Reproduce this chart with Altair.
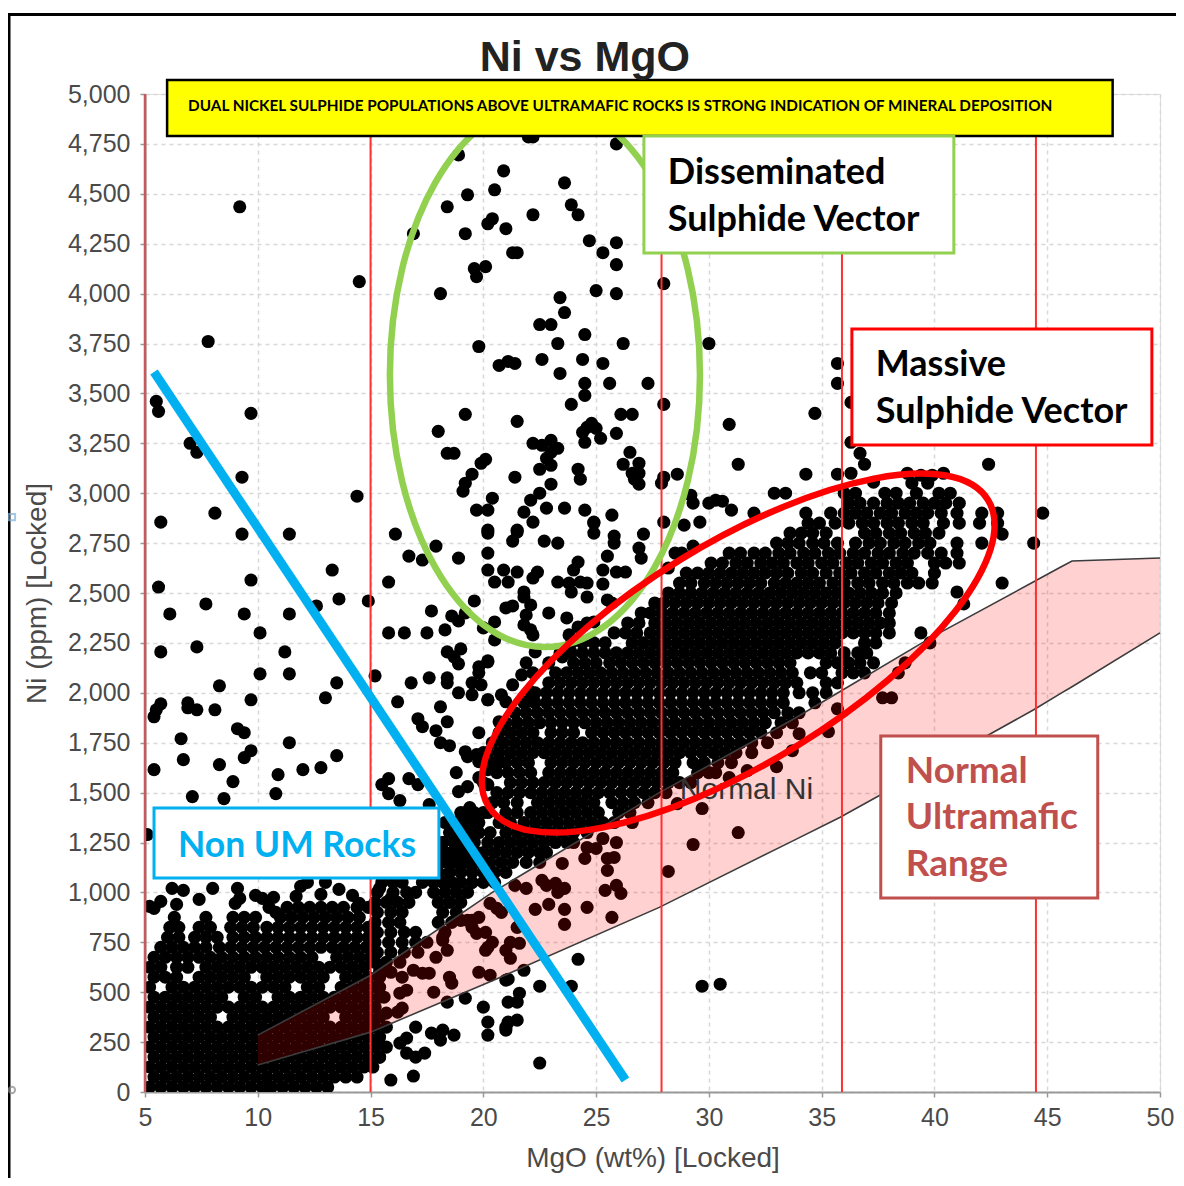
import altair as alt
import pandas as pd

# Scattered samples
scatter_mgo = [
9.2,14.5,7.8,5.5,5.6,9.7,7.0,7.3,9.3,14.4,8.1,5.7,9.3,11.4,16.1,17.9,16.7,17.3,18.9,13.3,9.7,15.8,5.6,13.6,14.9,7.7,6.1,9.4,11.4,12.6,
17.7,19.6,18.6,18.9,19.2,10.1,15.8,16.5,17.5,18.3,20.0,5.7,7.3,11.2,18.4,19.0,18.7,18.9,19.8,20.2,10.1,11.4,15.2,17.6,16.8,18.4,18.4,19.8,19.5,19.9,
18.9,19.5,8.3,13.5,13.0,9.7,16.2,20.2,5.7,5.5,5.4,6.9,6.9,7.3,8.1,18.1,17.1,17.3,18.4,17.9,9.1,9.4,6.6,19.8,11.4,18.1,18.5,9.7,9.4,6.7,
13.5,8.3,5.4,12.0,12.8,10.9,8.9,7.1,8.5,10.8,15.8,15.5,15.8,16.3,16.7,17.1,18.8,18.9,19.3,19.2,19.3,19.7,20.0,19.8,19.8,19.4,17.6,5.1,
22.0,22.2,25.9,18.9,20.9,23.6,20.5,19.3,18.4,23.9,24.2,22.2,20.4,20.2,21.0,19.2,16.9,24.7,25.9,25.3,21.3,21.5,25.9,20.1,19.6,19.7,28.0,18.1,25.0,25.9,
23.4,23.6,22.5,23.0,24.5,23.3,26.2,30.0,19.8,22.6,24.4,25.3,20.7,21.1,21.4,23.4,24.5,24.5,25.6,27.3,23.9,28.0,26.1,26.6,19.2,21.5,30.9,18.0,25.9,24.6,
25.0,24.4,25.2,24.5,24.8,22.2,23.0,23.3,22.6,23.0,18.4,18.7,26.5,20.1,19.9,22.8,26.2,26.9,31.3,19.5,22.5,23.0,24.2,24.3,21.4,26.6,26.9,26.7,26.9,28.0,
27.9,28.6,19.2,19.1,23.0,22.5,22.1,20.4,22.8,23.6,19.7,20.2,21.8,24.5,25.7,22.2,24.9,28.0,28.9,29.6,29.3,29.2,30.0,30.3,30.6,31.0,32.0,20.2,21.5,
24.9,24.9,21.5,21.3,20.2,25.8,25.8,27.1,22.7,23.3,20.2,26.9,27.0,25.5,24.2,24.0,28.5,28.8,29.3,20.2,20.9,21.5,22.4,22.2,20.5,21.1,23.3,25.3,25.9,26.3,
28.2,25.3,23.8,24.3,24.6,23.9,24.6,25.5,25.7,21.8,21.8,22.1,21.0,21.3,21.9,21.8,22.1,22.9,23.7,20.5,20.5,22.2,24.2,24.6,24.9,23.8,22.3,20.2,21.9,22.9,
23.8,23.5,22.2,21.7,21.3,20.8,21.0,20.2,21.9,22.1,20.7,20.2,20.7,20.2,20.2,19.3,
35.7,35.7,36.3,34.7,36.3,36.7,36.9,34.3,35.7,36.3,37.3,42.4,38.8,39.4,39.9,40.4,39.0,39.7,32.9,33.4,42.1,42.8,42.0,42.8,43.0,44.8,44.4,43.0,42.1,41.0,
41.3,39.8,39.4,38.7,38.4,37.7,38.1,35.7,
23.5,22.5,24.6,25.0,24.5,25.3,25.9,25.8,25.5,25.5,22.6,23.2,23.6,23.3,22.8,21.9,21.4,25.4,25.9,26.1,22.9,22.3,23.6,24.6,25.7,23.6,28.2,29.3,31.3,29.7,
28.6,31.7,33.0,33.7,30.9,30.3,29.7,34.0,35.3,26.6,20.6,20.3,20.8,19.5,19.8,19.3,19.5,19.7,20.1,20.2,20.4,20.1,21.2,21.6,21.0,21.2,18.2,18.4,21.5,19.8,
20.3,18.5,18.6,24.2,23.9,22.5,21.8,21.1,19.2,18.4,21.6,21.1,21.5,20.0,20.2,21.5,21.1,21.0,20.2,18.2,18.7,18.1,29.7,30.5,22.5,
19.0,18.2,17.9,16.9,16.4,17.3,17.6,17.8,16.3,16.6,16.2,15.7,16.4,15.4,15.6,15.1,21.0,21.0,17.0,16.6,16.3,16.6,17.0,17.4,17.7,15.3,15.4,15.9,16.9,
6.2,6.7,8.0,9.1,7.4,6.4,5.4,5.7,5.2,9.0,9.2,9.9,10.2,10.7,10.5,10.8,11.9,12.2,11.7,13.0,13.6,12.8,14.2,14.5,15.4,15.9,
19.0,19.4,18.6,19.0,18.4,18.8,19.3,19.9,18.2,18.8,19.3,17.6,18.3,18.8,19.3,19.8,19.4,19.0,18.7,
]
scatter_ni = [
4435,4060,3760,3460,3410,3400,3250,3205,3080,2985,2900,2855,2795,2795,2795,2735,2685,2665,2675,2615,2565,2555,2530,2470,2460,2445,2395,2395,2395,2435,
2410,2460,2385,2360,2400,2300,2300,2300,2300,2315,2325,2205,2230,2205,2205,2220,2180,2145,2130,2155,2095,2095,2085,2075,2050,2075,2050,2100,2050,2040,
2000,1990,2035,2050,1975,1965,1955,1965,1945,1915,1880,1950,1925,1915,1915,1930,1870,1830,1855,1810,1820,1800,1770,1800,1750,1750,1735,1710,1675,1665,
1685,1640,1615,1615,1625,1590,1555,1480,1470,1495,1570,1540,1495,1460,1570,1540,1600,1505,1530,1705,1680,1690,1700,1655,1575,1425,1440,1290,
4785,4785,4750,4695,4615,4555,4520,4495,4435,4445,4395,4395,4375,4350,4325,4300,4300,4265,4255,4205,4205,4205,4145,4135,4125,4085,4050,4000,4015,4000,
3980,3905,3845,3845,3795,3750,3750,3750,3735,3670,3670,3650,3640,3660,3650,3600,3550,3490,3550,3550,3445,3445,3395,3395,3395,3360,3345,3310,3300,3330,
3325,3305,3275,3255,3350,3250,3265,3225,3240,3205,3200,3200,3205,3170,3150,3175,3145,3150,3145,3095,3120,3140,3120,3070,3080,3100,3100,3070,3045,3080,
3050,3095,3050,3010,3045,3000,2965,2975,2925,2925,2915,2915,2905,2915,2890,2855,2855,2855,2840,2855,2950,2990,2950,2965,2960,2915,2900,2815,2815,
2850,2800,2805,2760,2800,2785,2750,2795,2760,2750,2700,2725,2675,2685,2655,2615,2700,2700,2735,2615,2615,2605,2605,2575,2555,2555,2555,2615,2605,2605,
2625,2545,2550,2555,2550,2505,2480,2465,2450,2505,2480,2440,2425,2435,2390,2340,2315,2400,2375,2355,2265,2290,2330,2350,2355,2290,2205,2160,2150,2150,
2215,2180,2100,2090,2040,1990,1955,1965,1955,2005,1855,1665,1650,1615,1540,1400,
3650,3550,3455,3400,3255,3200,3145,3095,3095,3100,3055,3145,3100,3090,3090,3100,3050,3050,3000,3000,2900,2900,2850,2850,2795,2900,2750,2550,2750,2505,
2445,2250,2300,2150,2100,1975,1975,1920,
1145,1150,1225,1220,1170,1270,1250,1175,1170,1110,1060,1045,1020,1000,1035,1020,1035,1010,1035,995,940,915,915,925,875,840,1105,1240,1300,1420,
1445,1610,1630,1710,1575,1600,1615,1795,1805,1350,920,945,900,860,875,860,825,795,800,725,750,710,750,745,710,670,760,710,825,600,
585,575,545,665,530,530,610,565,470,450,495,450,450,425,350,360,350,310,285,310,285,260,530,540,145,
860,775,675,610,575,595,595,500,495,510,400,395,420,525,475,360,560,325,325,270,245,195,175,195,295,245,175,60,80,
1020,1010,1020,1020,965,940,920,955,930,945,970,985,970,975,925,900,1030,1050,980,1050,1015,990,985,945,1020,970,
1250,1300,1200,1200,1150,1150,1150,1150,1250,1250,1250,1100,1350,1350,1350,1350,1400,1400,1300,
]

# Densely overplotted zone of the sulphide trend: MgO read along each Ni level
band_3000 = [36.0,36.5,37.8,38.3,39.2,40.2,40.7]
band_2950 = [36.2,36.7,37.3,37.9,38.4,38.9,39.5,40.0,40.5,41.1]
band_2900 = [34.3,35.4,36.0,36.5,37.0,37.6,38.1,38.7,39.2,39.7,40.3,41.0]
band_2850 = [34.4,34.9,35.6,36.2,36.8,37.3,37.9,38.4,39.0,39.5,40.4,41.1]
band_2800 = [33.6,34.1,34.6,35.2,36.9,37.4,38.0,38.5,39.1,39.6,40.2]
band_2750 = [33.0,33.5,34.0,34.6,35.1,35.7,36.5,37.1,37.6,38.2,38.7,39.3,39.8,41.0]
band_2700 = [30.9,31.4,32.0,32.5,33.1,33.6,34.2,34.7,35.3,35.8,36.4,36.9,37.5,38.0,38.6,39.1,39.7,40.3,41.0]
band_2650 = [30.1,30.6,31.2,31.7,32.3,32.8,33.3,33.9,34.4,35.0,35.5,36.1,36.6,37.2,37.7,38.3,38.8,40.0,40.5,41.1]
band_2600 = [29.0,29.5,30.0,30.5,31.0,31.5,32.0,32.5,33.0,33.5,34.1,34.6,35.2,35.8,36.3,36.9,37.4,38.0,38.5,39.0,40.0]
band_2550 = [28.7,29.2,29.8,30.3,30.8,31.3,31.8,32.3,32.9,33.4,33.9,34.4,34.9,35.5,36.0,36.6,37.1,37.7,38.2,38.8,39.3,39.9]
band_2500 = [28.2,28.7,29.2,29.7,30.2,30.7,31.2,31.7,32.2,32.7,33.2,33.7,34.2,34.7,35.2,35.7,36.2,36.7,37.2,37.7,38.3]
band_2450 = [27.6,28.0,28.5,29.0,29.5,30.0,30.5,31.0,31.5,32.0,32.5,33.0,33.5,34.0,34.5,35.0,35.5,36.0,36.5,37.0,37.5,38.1]
band_2400 = [27.0,27.4,27.9,28.4,28.9,29.4,29.9,30.4,30.9,31.4,31.9,32.4,32.9,33.4,33.9,34.4,34.9,35.4,35.9,36.4,36.9,37.4,38.0]
band_2350 = [26.4,26.9,27.6,28.1,28.6,29.1,29.6,30.1,30.6,31.1,31.6,32.1,32.6,33.1,33.6,34.1,34.6,35.1,35.6,36.1,36.6,37.1,37.6,38.0]
band_2300 = [25.8,26.3,26.8,27.4,27.9,28.4,28.9,29.4,29.9,30.4,30.9,31.4,31.9,32.4,32.9,33.4,33.9,34.4,34.9,35.4,35.9,36.4,36.9,37.4,38.0]
band_2250 = [23.9,24.4,24.9,25.4,26.6,27.1,27.6,28.1,28.6,29.1,29.6,30.1,30.6,31.1,31.6,32.1,32.6,33.1,33.6,34.1,34.6,35.1,35.6,36.9,37.4]
band_2200 = [23.4,23.9,24.4,24.9,25.4,25.9,26.4,26.9,27.4,27.9,28.4,28.9,29.4,29.9,30.4,30.9,31.4,31.9,32.4,32.9,33.4,33.9,34.4,34.9,35.4,36.0,36.6,37.0]
band_2150 = [24.0,24.5,25.0,25.6,26.1,26.6,27.1,27.6,28.1,28.6,29.1,29.6,30.1,30.6,31.1,31.6,32.1,32.6,33.1,33.6,35.2,35.7,36.2,36.7,37.3]
band_2100 = [23.2,23.7,24.2,24.7,25.2,25.7,26.2,26.7,27.2,27.7,28.2,28.7,29.2,29.7,30.2,30.7,31.2,31.7,32.2,32.7,33.2,33.7,34.5,35.0,35.9,36.4,36.9]
band_2050 = [22.9,23.4,23.9,24.4,24.9,25.4,25.9,26.4,26.9,27.4,27.9,28.4,28.9,29.4,29.9,30.4,30.9,31.4,31.9,32.4,32.9,33.4,33.9,35.2,35.7]
band_2000 = [22.3,22.8,23.3,23.8,24.3,24.8,25.3,25.8,26.3,26.8,27.3,27.8,28.3,28.8,29.3,29.8,30.3,30.8,31.3,31.8,32.3,32.8,33.3,34.0,34.6,35.2]
band_1950 = [21.8,22.3,22.8,23.3,23.8,24.3,24.8,25.3,25.8,26.3,26.8,27.3,27.8,28.3,28.8,29.3,29.8,30.3,30.8,31.3,31.8,32.3,32.8,33.3,34.7]
band_1900 = [21.4,21.9,22.4,22.9,23.4,23.9,24.4,24.9,25.4,25.9,26.4,26.9,27.4,27.9,28.4,28.9,29.4,29.9,30.4,30.9,31.4,31.9,32.4,32.9,33.5,34.0]
band_1850 = [21.0,21.5,22.0,22.5,23.0,23.5,24.0,24.5,25.0,25.5,26.0,26.5,27.0,27.5,28.0,28.5,29.0,29.5,30.0,30.5,31.0,31.5,32.0,32.5,33.2,33.7]
band_1800 = [20.7,21.2,21.7,22.2,23.0,23.5,24.0,24.8,25.3,25.8,26.3,26.8,27.3,27.8,28.3,28.8,29.3,29.8,30.3,30.8,31.3,31.8,32.3,33.0]
band_1750 = [20.4,20.9,21.4,21.9,22.4,22.9,23.4,23.9,24.4,24.9,25.4,25.9,26.4,26.9,27.4,27.9,28.4,28.9,29.4,29.9,30.4,30.9,31.4,31.9,32.6]
band_1700 = [20.2,20.7,21.2,21.7,22.2,22.7,23.2,23.7,24.2,24.7,25.2,25.7,26.2,26.7,27.2,27.7,28.2,28.7,29.2,29.7,30.2,30.7,31.2,31.9]
band_1650 = [20.0,20.5,21.0,21.5,22.0,23.0,23.5,24.0,24.5,25.0,25.5,26.0,26.5,27.0,27.5,28.0,28.5,29.3,29.8,30.4,31.0]
band_1600 = [20.6,21.1,21.6,22.1,22.9,23.4,23.9,24.4,24.9,25.4,25.9,26.4,26.9,27.4,27.9,28.4,29.5,30.0]
band_1550 = [20.0,21.2,21.7,22.2,22.7,23.2,23.7,24.2,24.7,25.2,25.7,26.2,26.7,27.2,27.7,28.2,28.7,29.2]
band_1500 = [20.6,21.1,21.6,22.1,22.6,23.1,23.6,24.1,24.6,25.1,25.6,26.1,26.6,27.1,27.6,28.1]
band_1450 = [20.4,20.9,21.5,22.4,22.9,23.4,23.9,24.4,24.9,25.7,26.2,26.7,27.3]
band_1400 = [20.2,21.0,21.5,22.1,22.6,23.1,23.6,24.1,24.6,25.1,26.0,26.5]
band_1350 = [20.7,21.2,21.8,22.3,22.8,23.3,23.8,24.3,24.8,25.3,25.8]
band_1300 = [19.8,20.3,21.0,21.5,22.0,22.5,23.0,23.5,24.0,24.6]
band_1250 = [20.2,20.7,21.2,21.7,22.2,22.7,23.2,23.7,24.0]
band_1200 = [20.0,20.5,21.0,21.5,22.0,22.5,22.8]
band_1150 = [19.8,20.3,20.8,21.3,21.9]
band_1100 = [19.5,20.0,20.5,21.0]
band_1050 = [19.5,20.0,20.5]

# Densely overplotted zone of the non-ultramafic rocks
rock_25 = [5.2,5.7,6.2,6.7,7.2,7.7,8.2,8.7,9.2,9.7,10.2,10.6,11.1,11.6,12.1,12.6,13.1]
rock_75 = [5.4,5.9,6.4,6.9,7.4,7.9,8.4,8.9,9.4,9.9,10.4,10.9,11.4,11.9,12.4,12.9,13.4,13.9,14.4]
rock_125 = [5.2,5.7,6.2,6.7,7.2,7.7,8.2,8.7,9.2,9.7,10.2,10.7,11.2,11.7,12.2,12.7,13.2,13.7,14.2,14.7,15.1]
rock_175 = [5.4,5.9,6.4,6.9,7.4,7.9,8.4,8.9,9.4,9.9,10.4,10.9,11.4,11.9,12.4,12.9,13.4,13.9,14.4,14.9,15.4]
rock_225 = [5.2,5.7,6.2,6.7,7.2,7.7,8.2,8.7,9.2,9.7,10.2,10.7,11.2,11.7,12.2,12.7,13.2,13.7,14.2,14.7,15.2,15.7]
rock_275 = [5.4,5.9,6.4,6.9,7.4,7.9,8.4,8.9,9.4,9.9,10.4,10.9,11.4,11.9,12.4,12.9,13.4,13.9,14.4,14.9,15.4]
rock_325 = [5.2,5.7,6.2,6.7,7.2,7.7,8.2,8.7,9.2,9.7,10.2,10.7,11.2,11.7,12.2,12.7,13.2,13.7,14.2,14.7,15.2,15.7]
rock_375 = [5.4,5.9,6.4,6.9,7.4,7.9,8.9,9.4,9.9,10.4,10.9,11.4,11.9,12.4,12.9,13.9,14.4,14.9,15.4]
rock_425 = [5.2,5.7,6.2,6.7,7.2,7.7,8.2,8.7,9.2,9.7,10.2,10.7,11.2,11.7,12.2,12.7,13.2,13.7,14.2,14.7,15.2]
rock_475 = [5.4,5.9,6.4,6.9,7.4,7.9,8.4,9.4,9.9,10.9,11.4,11.9,12.4,12.9,13.4,13.9,14.4,14.9,15.4]
rock_525 = [5.2,6.2,6.7,7.2,7.7,8.2,8.7,9.2,9.7,10.2,10.7,11.2,12.2,12.7,13.7,14.2,14.7,15.2]
rock_575 = [5.4,5.9,6.4,7.4,7.9,8.4,8.9,9.4,10.4,10.9,11.4,11.9,12.4,12.9,13.9,14.4,14.9,15.4]
rock_625 = [5.2,5.7,6.4,6.9,7.7,8.2,8.7,9.2,9.7,10.2,10.7,11.2,11.7,12.2,12.7,13.2,13.7,14.2,14.7,15.4]
rock_675 = [5.4,5.9,6.4,6.9,7.4,7.9,8.4,8.9,9.4,9.9,10.4,10.9,11.4,11.9,12.4,13.5,14.0,14.5,15.0]
rock_725 = [5.7,6.2,6.7,7.2,7.7,8.3,8.8,9.3,9.8,10.3,10.8,11.3,11.8,12.3,12.8,13.3,13.8,14.3,14.8]
rock_775 = [6.0,6.5,7.2,7.7,8.2,8.9,9.4,9.9,10.4,10.9,11.4,11.9,12.4,12.9,13.4,13.9,14.4,14.9]
rock_825 = [6.1,6.5,7.4,7.9,8.8,9.3,9.8,10.4,10.9,11.4,11.9,12.4,12.9,13.4,13.9,14.4,14.9]
rock_875 = [6.3,7.7,8.9,9.4,9.9,11.0,11.5,12.0,12.5,13.0,13.5,14.0,14.5]
rock_925 = [11.3,11.8,12.3,12.8,13.3,13.8,14.4,14.9]
rock_r1400 = [19.2,19.6,20.0]
rock_r1350 = [18.8,19.3,19.7]
rock_r1300 = [18.5,19.0,19.5]
rock_r1250 = [18.2,18.7,19.1,19.6]
rock_r1200 = [18.3,18.8,19.3,19.7]
rock_r1150 = [18.1,18.6,19.1,19.5]
rock_r1100 = [15.6,16.6,17.4,18.0,18.5,19.0]
rock_r1050 = [15.5,16.0,16.4,17.3,17.8,18.2,18.6,19.0,19.5]
rock_r1000 = [15.3,16.0,16.6,17.0,17.8,18.3,18.8,19.3]
rock_r950 = [15.2,15.7,16.2,16.7,18.0,18.5,19.0]
rock_r900 = [15.3,15.9,16.4,18.2,18.8]
rock_r850 = [15.2,15.8,16.3,18.0,18.6]
rock_r800 = [15.3,15.9,16.5,17.0,18.3]
rock_r750 = [15.2,15.8,16.4,17.0,17.5]
rock_r700 = [15.3,15.9,16.5,17.1]
rock_r650 = [15.2,15.7,16.3]
rock_r600 = [15.4,15.9]

dense_rows = [
    (3000,band_3000),(2950,band_2950),(2900,band_2900),(2850,band_2850),(2800,band_2800),(2750,band_2750),
    (2700,band_2700),(2650,band_2650),(2600,band_2600),(2550,band_2550),(2500,band_2500),(2450,band_2450),
    (2400,band_2400),(2350,band_2350),(2300,band_2300),(2250,band_2250),(2200,band_2200),(2150,band_2150),
    (2100,band_2100),(2050,band_2050),(2000,band_2000),(1950,band_1950),(1900,band_1900),(1850,band_1850),
    (1800,band_1800),(1750,band_1750),(1700,band_1700),(1650,band_1650),(1600,band_1600),(1550,band_1550),
    (1500,band_1500),(1450,band_1450),(1400,band_1400),(1350,band_1350),(1300,band_1300),(1250,band_1250),
    (1200,band_1200),(1150,band_1150),(1100,band_1100),(1050,band_1050),
    (25,rock_25),(75,rock_75),(125,rock_125),(175,rock_175),(225,rock_225),(275,rock_275),(325,rock_325),
    (375,rock_375),(425,rock_425),(475,rock_475),(525,rock_525),(575,rock_575),(625,rock_625),(675,rock_675),
    (725,rock_725),(775,rock_775),(825,rock_825),(875,rock_875),(925,rock_925),
    (1400,rock_r1400),(1350,rock_r1350),(1300,rock_r1300),(1250,rock_r1250),(1200,rock_r1200),(1150,rock_r1150),(1100,rock_r1100),
    (1050,rock_r1050),(1000,rock_r1000),(950,rock_r950),(900,rock_r900),(850,rock_r850),(800,rock_r800),
    (750,rock_r750),(700,rock_r700),(650,rock_r650),(600,rock_r600),
]

# Normal-Ni range
range_mgo = [10,15,20.4,27.8,33.7,35.8,39.9,44.4,45.6,46.1,50]
range_high = [285,585,1000,1500,1865,2005,2280,2556,2630,2660,2675]
range_low = [135,300,557,925,1257,1375,1632,1915,1997,2030,2300]

# Cut-off lines
cutoffs = [15, 27.9, 35.9, 44.5]

x_ticks = [5,10,15,20,25,30,35,40,45,50]
y_ticks = list(range(0,5001,250))

points = pd.DataFrame({"mgo": scatter_mgo, "ni": scatter_ni})
dense = pd.DataFrame([{"mgo": m, "ni": n} for n, row in dense_rows for m in row])
points = pd.concat([points, dense], ignore_index=True)

xs = alt.Scale(domain=[5,50], nice=False, zero=False)
ys = alt.Scale(domain=[0,5000], nice=False, zero=False)

AX = dict(
    grid=True, gridColor="#d8d8d8", gridDash=[4,4], gridWidth=1.5,
    domainColor="#999999", domainWidth=2, tickColor="#999999", tickSize=5, tickWidth=1.5,
    labelFont="Liberation Sans", labelFontSize=25, labelColor="#4a4a4a",
    titleFont="Liberation Sans", titleFontSize=28, titleFontWeight="normal", titleColor="#4a4a4a",
    titleBaseline="middle",
)
X_AXIS = alt.Axis(title="MgO (wt%) [Locked]", values=x_ticks, titleY=66, format="d", labelFlush=False, labelPadding=8, **AX)
Y_AXIS = alt.Axis(title="Ni (ppm) [Locked]", values=y_ticks, titleX=-108, format=",d", labelPadding=10, **AX)

def X(f): return alt.X(f, type="quantitative", scale=xs, axis=X_AXIS)
def Y(f): return alt.Y(f, type="quantitative", scale=ys, axis=Y_AXIS)

base = alt.Chart(points).mark_circle(size=172, color="black", opacity=1, clip=True).encode(x=X("mgo"), y=Y("ni"))

band_df = pd.DataFrame({"mgo": range_mgo, "hi": range_high, "lo": range_low})
band = alt.Chart(band_df).mark_area(color="#ff0000", opacity=0.18).encode(x=X("mgo"), y=Y("hi"), y2=alt.Y2("lo"))
band_hi = alt.Chart(band_df).mark_line(color="#3c3c3c", strokeWidth=1.6).encode(x=X("mgo"), y=Y("hi"))
band_lo = alt.Chart(band_df).mark_line(color="#3c3c3c", strokeWidth=1.6).encode(x=X("mgo"), y=Y("lo"))

normal_ni = alt.Chart(pd.DataFrame({"x":[28.71],"y":[1513],"t":["Normal Ni"]})).mark_text(
    font="Liberation Sans", fontSize=30, color="#333333", align="left", baseline="middle"
).encode(x=X("x"), y=Y("y"), text="t:N")

left_rule = alt.Chart(pd.DataFrame({"x":[5],"a":[0],"b":[5000]})).mark_rule(color="#c8585c", strokeWidth=2.5).encode(
    x=X("x"), y=Y("a"), y2=alt.Y2("b"))
cut_df = pd.DataFrame({"x": cutoffs, "a": 0, "b": 5000})
cut_rules = alt.Chart(cut_df).mark_rule(color="#ff3030", strokeWidth=2).encode(x=X("x"), y=Y("a"), y2=alt.Y2("b"))

blue_line = alt.Chart(pd.DataFrame({"x":[5.4],"x2":[26.3],"y":[3607],"y2":[60]})).mark_rule(
    color="#00B0F0", strokeWidth=9, clip=False
).encode(x=X("x"), x2=alt.X2("x2"), y=Y("y"), y2=alt.Y2("y2"))

green_ellipse = alt.Chart(pd.DataFrame({"x":[22.73],"y":[3592]})).mark_point(
    shape="M0,-1 A0.57,1 0 1,1 0,1 A0.57,1 0 1,1 0,-1 Z", size=295936, filled=False,
    stroke="#92D050", strokeWidth=6.5, opacity=1, clip=False
).encode(x=X("x"), y=Y("y"))
red_ellipse = alt.Chart(pd.DataFrame({"x":[31.3],"y":[2199]})).mark_point(
    shape="M-1,0 A1,0.375 0 1,1 1,0 A1,0.375 0 1,1 -1,0 Z", size=343396, angle=328.5, filled=False,
    stroke="#FF0000", strokeWidth=6.5, opacity=1, clip=False
).encode(x=X("x"), y=Y("y"))

def box(x0, x1, y0, y1, fill, stroke, width):
    return alt.Chart(pd.DataFrame({"x":[x0],"x2":[x1],"y":[y0],"y2":[y1]})).mark_rect(
        fill=fill, stroke=stroke, strokeWidth=width, opacity=1, clip=False
    ).encode(x=X("x"), x2=alt.X2("x2"), y=Y("y"), y2=alt.Y2("y2"))

def label(x, ys_, lines, color, size=36, font="Lato", align="left"):
    df = pd.DataFrame({"x":[x]*len(lines), "y":ys_, "t":lines})
    return alt.Chart(df).mark_text(
        font=font, fontWeight="bold", fontSize=size, color=color, align=align, baseline="middle", clip=False
    ).encode(x=X("x"), y=Y("y"), text="t:N")

frame_l = alt.Chart(pd.DataFrame({"a":[0]})).mark_rule(color="black", strokeWidth=3).encode(
    x=alt.value(-136), y=alt.value(-79.5), y2=alt.value(1084))
frame_t = alt.Chart(pd.DataFrame({"a":[0]})).mark_rule(color="black", strokeWidth=3).encode(
    x=alt.value(-137), x2=alt.value(1031), y=alt.value(-79.5))

handle_sq = alt.Chart(pd.DataFrame({"x":[-0.9],"y":[2880]})).mark_point(
    shape="square", size=40, color="#7fb2d9", filled=False, clip=False).encode(x=X("x"), y=Y("y"))
handle_ci = alt.Chart(pd.DataFrame({"x":[-0.9],"y":[10]})).mark_point(
    shape="circle", size=40, color="#888888", filled=False, clip=False).encode(x=X("x"), y=Y("y"))

chart = alt.layer(
    base, band, band_hi, band_lo, normal_ni, left_rule, cut_rules, blue_line, green_ellipse, red_ellipse,
    box(5.98,47.9,5070,4790,"#FFFF00","#000000",2.5),
    box(27.12,40.86,4790,4203,"#FFFFFF","#92D050",3),
    box(36.34,49.64,3823,3241,"#FFFFFF","#FF0000",3),
    box(37.62,47.24,1784,972,"#FFFFFF","#C0504D",3),
    box(5.4,18.03,1423,1072,"#FFFFFF","#00B0F0",3),
    label(24.5,[5180],["Ni vs MgO"],"#222222",43,"Liberation Sans","center"),
    label(6.91,[4940],["DUAL NICKEL SULPHIDE POPULATIONS ABOVE ULTRAMAFIC ROCKS IS STRONG INDICATION OF MINERAL DEPOSITION"],"#000000",15.3),
    label(28.18,[4604,4369],["Disseminated","Sulphide Vector"],"#000000"),
    label(37.4,[3642,3407],["Massive","Sulphide Vector"],"#000000"),
    label(38.73,[1603,1373,1137],["Normal","Ultramafic","Range"],"#C0504D",37),
    label(6.46,[1232],["Non UM Rocks"],"#00B0F0",35.5),
    frame_l, frame_t, handle_sq, handle_ci,
).properties(
    width=1015, height=998,
    padding={"left":137,"top":86,"right":16,"bottom":86},
    autosize=alt.AutoSizeParams(type="none"),
).configure_view(stroke="#bbbbbb", strokeWidth=1.5).configure(background="white")

chart.save("out.html", embed_options={"renderer": "svg", "actions": False})
